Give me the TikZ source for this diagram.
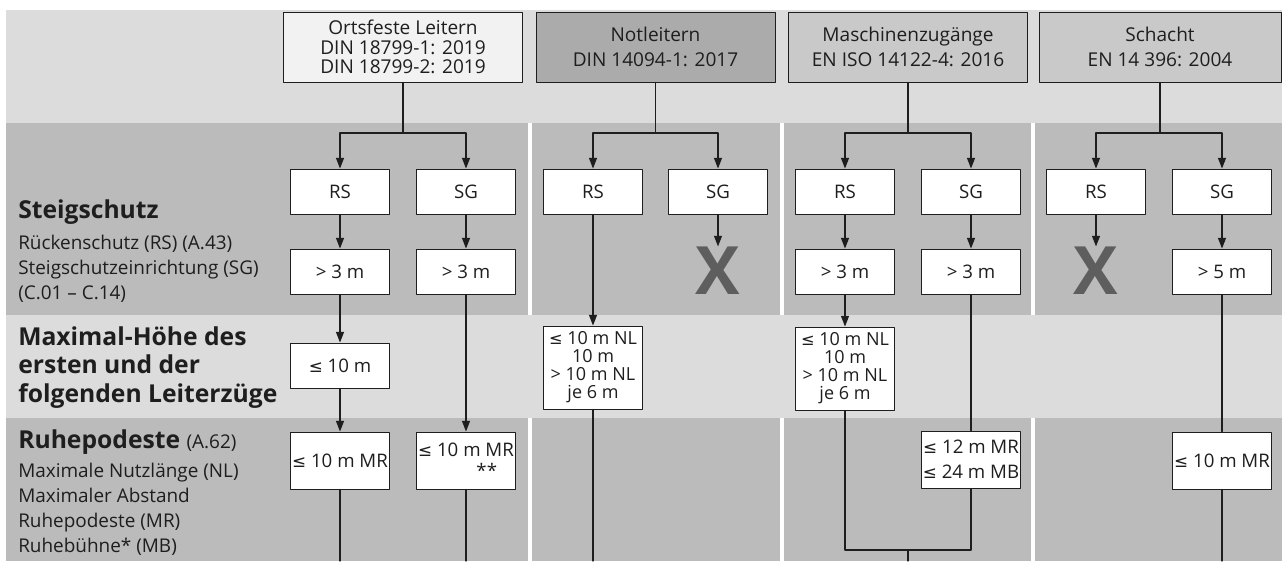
\documentclass[tikz,border=0pt]{standalone}
\usepackage{fontspec}
\setmainfont{Open Sans}
\newfontfamily\symfont{DejaVu Sans}[Scale=0.9]
\newcommand\lesym{{\symfont ≤}}
\usetikzlibrary{arrows.meta}

\definecolor{bandlight}{HTML}{DCDCDC}
\definecolor{banddark}{HTML}{BBBBBB}
\definecolor{headlight}{HTML}{F2F2F2}
\definecolor{headdark}{HTML}{ABABAB}
\definecolor{headmid}{HTML}{C9C9C9}
\definecolor{crossgray}{HTML}{5E5E5E}
\definecolor{ink}{HTML}{1E1E1E}

\begin{document}
\begin{tikzpicture}[x=0.75pt, y=-0.75pt, >={Triangle[length=8pt,width=6pt]}, line cap=round, line join=round,
  box/.style={draw=ink, line width=0.7pt, fill=white, text=ink, inner sep=0pt, minimum width=74.25pt, minimum height=33.75pt, align=center, font=\fontsize{14}{15}\selectfont},
  head/.style={box, minimum width=179.25pt, minimum height=52.5pt, font=\fontsize{14.3}{18.75}\selectfont},
  mrbox/.style={box, minimum height=42.75pt},
  nlbox/.style={box, minimum height=62.25pt, font=\fontsize{13.5}{13.5}\selectfont},
  cross/.style={text=crossgray, inner sep=0pt, font=\fontsize{50}{50}\selectfont\bfseries},
  link/.style={draw=ink, line width=0.9pt},
  heading/.style={anchor=base west, inner sep=0pt, text=ink, align=left, font=\fontsize{18.5}{21.2}\selectfont\bfseries},
  desc/.style={anchor=base west, inner sep=0pt, text=ink, align=left, font=\fontsize{14.2}{18.75}\selectfont}]

\useasboundingbox (0,0) rectangle (1282,561);

% bands
\fill[white] (0,0) rectangle (1282,561);
\fill[bandlight] (6,10) rectangle (1282,123);
\fill[banddark] (6,123) rectangle (528,315);
\fill[banddark] (532,123) rectangle (780,315);
\fill[banddark] (784,123) rectangle (1031,315);
\fill[banddark] (1035,123) rectangle (1282,315);
\fill[bandlight] (6,315) rectangle (1282,418);
\fill[banddark] (6,418) rectangle (528,561);
\fill[banddark] (532,418) rectangle (780,561);
\fill[banddark] (784,418) rectangle (1031,561);
\fill[banddark] (1035,418) rectangle (1282,561);

% row labels (base = last line)
\node[heading] (lsteig) at (18,218) {Steigschutz};
\node[desc] (lsteigd) at (18,299) {Rückenschutz (RS) (A.43)\\Steigschutzeinrichtung (SG)\\(C.01 – C.14)};
\node[heading] (lmax) at (18,402) {Maximal-Höhe des\\ersten und der\\folgenden Leiterzüge};
\node[heading] (lruhe) at (18,448) {Ruhepodeste {\mdseries\fontsize{14.2}{18.75}\selectfont(A.62)}};
\node[desc] (lruhed) at (18,552) {Maximale Nutzlänge (NL)\\Maximaler Abstand\\Ruhepodeste (MR)\\Ruhebühne* (MB)};

% headers
\node[head, fill=headlight, font=\fontsize{14.3}{14.6}\selectfont] (hol) at (403,47) {Ortsfeste Leitern\\DIN 18799-1: 2019\\DIN 18799-2: 2019};
\node[head, fill=headdark] (hnl) at (655.5,47) {Notleitern\\DIN 14094-1: 2017};
\node[head, fill=headmid] (hmz) at (908,47) {Maschinenzugänge\\EN ISO 14122-4: 2016};
\node[head, fill=headmid, minimum width=181.5pt] (hsc) at (1160,47) {Schacht\\EN 14 396: 2004};

\coordinate (bol) at (403,133);
\coordinate (bnl) at (655.5,133);
\coordinate (bmz) at (908,133);
\coordinate (bsc) at (1160,133);

% column 1
\node[box] (rs1) at (340,191.5) {RS};
\node[box] (sg1) at (466,191.5) {SG};
\node[box] (rs1m) at (340,271.5) {> 3 m};
\node[box] (sg1m) at (466,271.5) {> 3 m};
\node[box] (zug1) at (340,365.5) {\lesym{} 10 m};
\node[mrbox] (mr1) at (340,460.5) {\lesym{} 10 m MR};
\node[mrbox, align=right, font=\fontsize{14}{16}\selectfont] (mr1s) at (466,460.5) {\lesym{} 10 m MR\\**\hspace*{0.9em}};
\coordinate (e1) at (340,561);
\coordinate (e1s) at (466,561);

% column 2
\node[box] (rs2) at (593,191.5) {RS};
\node[box] (sg2) at (718,191.5) {SG};
\node[cross] (x2) at (718,270.5) {X};
\node[nlbox] (nl2) at (593,367.5) {\lesym{} 10 m NL\\10 m\\> 10 m NL\\je 6 m};
\coordinate (e2) at (593,561);

% column 3
\node[box] (rs3) at (845,191.5) {RS};
\node[box] (sg3) at (971,191.5) {SG};
\node[box] (rs3m) at (845,271.5) {> 3 m};
\node[box] (sg3m) at (971,271.5) {> 3 m};
\node[nlbox] (nl3) at (845,368.5) {\lesym{} 10 m NL\\10 m\\> 10 m NL\\je 6 m};
\node[mrbox, font=\fontsize{14}{18.75}\selectfont] (mr3) at (971,459.5) {\lesym{} 12 m MR\\\lesym{} 24 m MB};
\coordinate (j3) at (908,550);
\coordinate (e3) at (908,561);

% column 4
\node[box] (rs4) at (1096,191.5) {RS};
\node[box] (sg4) at (1222,191.5) {SG};
\node[cross] (x4) at (1096,270.5) {X};
\node[box] (sg4m) at (1222,271.5) {> 5 m};
\node[mrbox] (mr4) at (1222,460.5) {\lesym{} 10 m MR};
\coordinate (e4) at (1222,561);

% connectors
\draw[link] (hol) -- (bol);
\draw[link, ->] (bol) -| (rs1);
\draw[link, ->] (bol) -| (sg1);
\draw[link, ->] (rs1) -- (rs1m);
\draw[link, ->] (sg1) -- (sg1m);
\draw[link, ->] (rs1m) -- (zug1);
\draw[link, ->] (zug1) -- (mr1);
\draw[link, ->] (sg1m) -- (mr1s);
\draw[link] (mr1) -- (e1);
\draw[link] (mr1s) -- (e1s);

\draw[link] (hnl) -- (bnl);
\draw[link, ->] (bnl) -| (rs2);
\draw[link, ->] (bnl) -| (sg2);
\draw[link, ->] (rs2) -- (nl2);
\draw[link, ->] (sg2) -- (x2);
\draw[link] (nl2) -- (e2);

\draw[link] (hmz) -- (bmz);
\draw[link, ->] (bmz) -| (rs3);
\draw[link, ->] (bmz) -| (sg3);
\draw[link, ->] (rs3) -- (rs3m);
\draw[link, ->] (sg3) -- (sg3m);
\draw[link, ->] (rs3m) -- (nl3);
\draw[link] (sg3m) -- (mr3);
\draw[link] (nl3) |- (j3) -| (mr3);
\draw[link] (j3) -- (e3);

\draw[link] (hsc) -- (bsc);
\draw[link, ->] (bsc) -| (rs4);
\draw[link, ->] (bsc) -| (sg4);
\draw[link, ->] (rs4) -- (x4);
\draw[link, ->] (sg4) -- (sg4m);
\draw[link] (sg4m) -- (mr4);
\draw[link] (mr4) -- (e4);

\end{tikzpicture}
\end{document}
